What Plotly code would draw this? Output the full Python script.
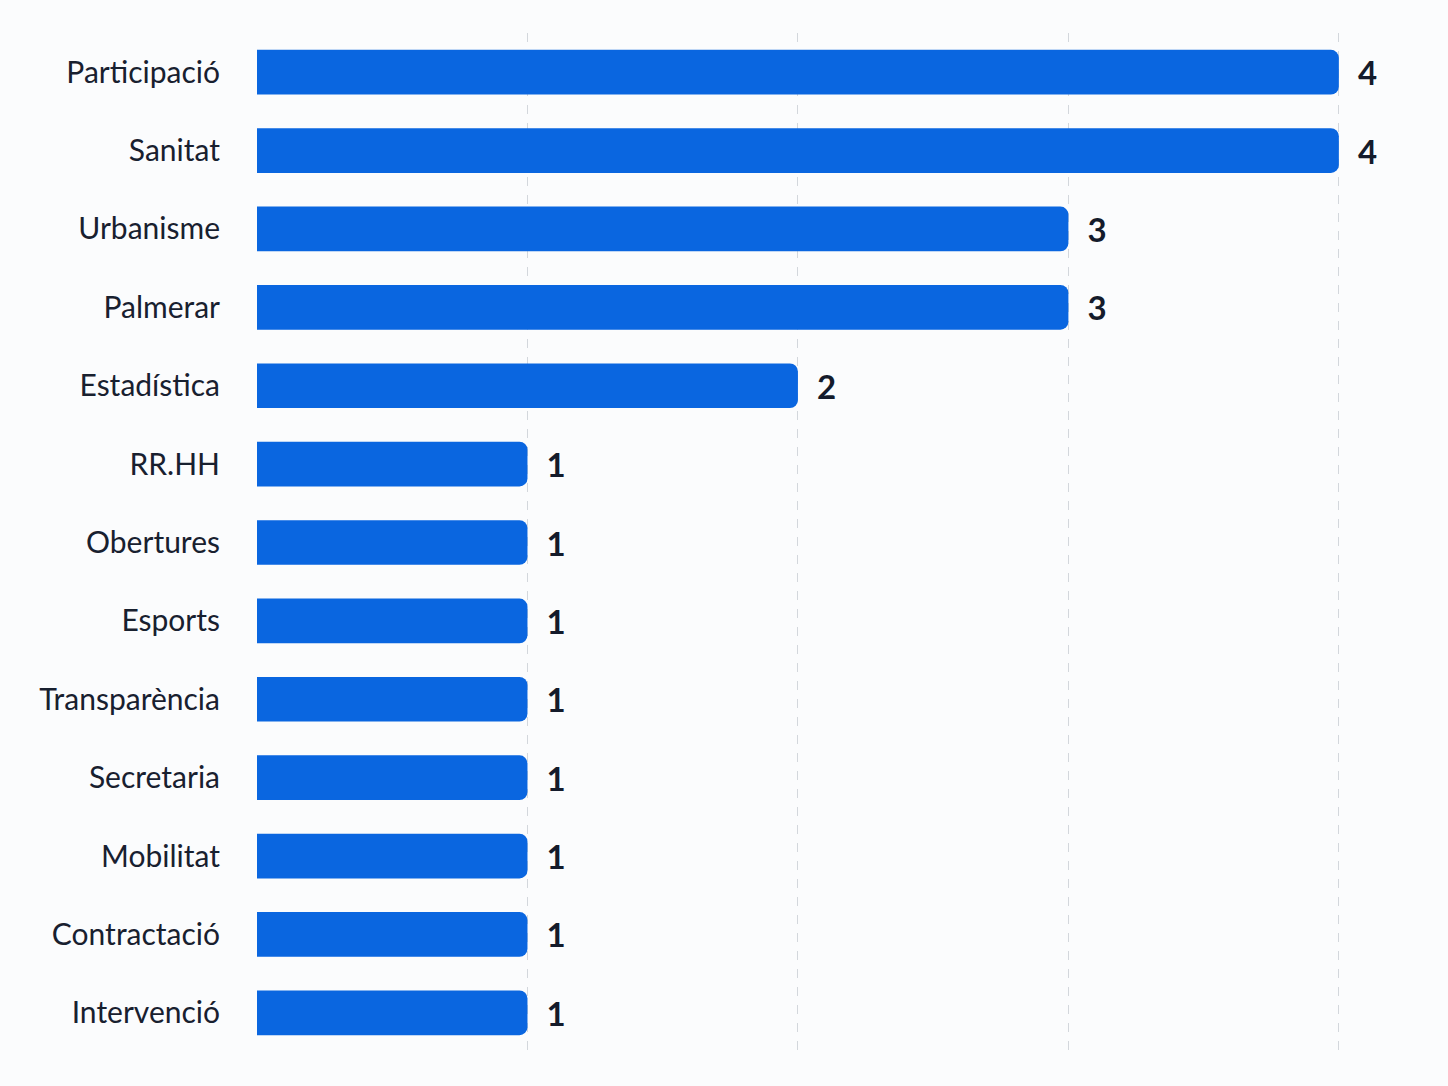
import plotly.graph_objects as go

categories = ["Participació", "Sanitat", "Urbanisme", "Palmerar", "Estadística", "RR.HH",
              "Obertures", "Esports", "Transparència", "Secretaria", "Mobilitat",
              "Contractació", "Intervenció"]
values = [4, 4, 3, 3, 2, 1, 1, 1, 1, 1, 1, 1, 1]

fig = go.Figure(go.Bar(
    x=values, y=categories, orientation="h",
    marker=dict(color="#0A66E0", line=dict(width=0)),
    width=0.57,
    text=["  " + str(v) for v in values],
    textposition="outside",
    cliponaxis=False,
    textfont=dict(family="Lato", size=33, color="#141B2B", weight="bold"),
))

fig.update_layout(
    width=1448, height=1086,
    paper_bgcolor="#FBFCFD", plot_bgcolor="#FBFCFD",
    margin=dict(l=257, r=28, t=33, b=34),
    barcornerradius=8,
    showlegend=False,
    font=dict(family="Lato", color="#141B2B"),
)
fig.update_xaxes(range=[0, 4.3], showticklabels=False, zeroline=False,
                 tickvals=[0, 1, 2, 3, 4],
                 showgrid=True, gridcolor="#D3D7DC", griddash="dash", gridwidth=1.2)
fig.update_yaxes(autorange=False, range=[12.5, -0.5], showgrid=False,
                 tickfont=dict(family="Lato", size=30, color="#18202F"),
                 ticks="outside", ticklen=30, tickcolor="rgba(0,0,0,0)")

fig.write_html("out.html")
